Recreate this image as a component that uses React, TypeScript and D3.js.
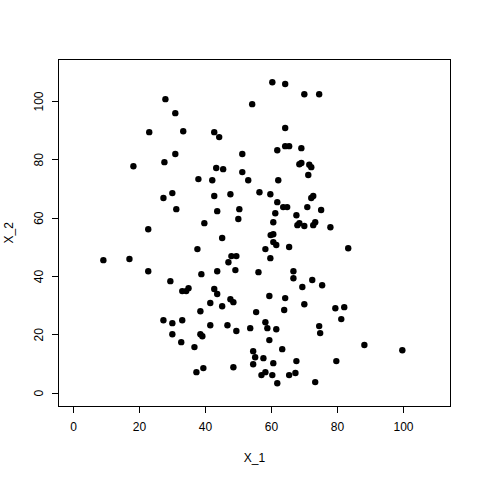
import React, { useEffect, useRef } from 'react';
import * as d3 from 'd3';

// values
const x1 = [
  28.0, 54.3, 31.0, 23.1, 33.4, 42.8, 44.3, 31.0, 51.3, 18.3, 27.7, 43.4, 45.5, 51.3, 38.0,
  42.2, 53.1, 30.1, 27.4, 42.8, 47.7, 31.3, 43.7, 50.4, 50.1, 39.8, 22.8,
  60.4, 64.3, 70.1, 74.6, 64.3, 64.3, 65.5, 61.9, 69.2, 68.6, 69.2, 71.6, 72.2, 71.3, 62.2,
  56.5, 59.8, 72.2, 72.8, 61.9, 63.7, 64.9, 71.0, 75.2, 61.3, 67.7, 60.7, 68.0, 68.6, 70.1,
  72.8, 73.4, 78.0, 59.9, 60.7,
  45.2, 37.7, 48.0, 49.5, 9.2, 17.1, 47.1, 22.8, 38.9, 43.7, 49.2, 29.5, 33.1, 34.3, 35.0,
  42.8, 43.7, 41.6, 47.7, 48.6, 45.2, 38.6, 27.4, 30.1, 33.1, 41.6, 46.8, 49.5, 53.7, 30.1,
  38.6, 39.2, 32.8, 36.8, 39.5, 37.4, 48.6,
  60.7, 61.6, 58.3, 65.5, 83.4, 59.8, 56.2, 66.8, 66.8, 72.5, 75.5, 69.5, 59.5, 64.3, 70.1,
  79.5, 82.2, 64.0, 55.5, 81.3, 58.3, 58.9, 61.6, 74.6, 74.9, 59.5, 88.3, 99.8, 54.6, 63.4,
  55.2, 57.7, 54.6, 60.7, 67.7, 79.8, 58.3, 57.1, 60.4, 65.5, 67.4, 61.9, 73.4,
];
const x2 = [
  100.8, 99.1, 96.0, 89.5, 89.8, 89.5, 87.8, 82.0, 82.0, 77.8, 79.2, 77.2, 76.8, 75.8, 73.4,
  73.0, 73.0, 68.6, 66.9, 67.6, 68.2, 63.1, 62.4, 63.1, 59.7, 58.3, 56.2,
  106.6, 106.0, 102.5, 102.5, 90.9, 84.7, 84.7, 83.3, 84.0, 78.5, 78.9, 78.3, 77.5, 74.8, 73.0,
  68.9, 68.2, 66.9, 67.6, 65.5, 63.8, 63.8, 63.8, 62.8, 61.7, 61.0, 58.6, 57.6, 58.3, 57.3,
  57.6, 58.6, 56.9, 54.2, 54.5,
  53.2, 49.4, 47.0, 47.0, 45.6, 46.0, 44.9, 41.8, 40.8, 41.8, 42.2, 38.4, 35.0, 35.0, 36.0,
  35.7, 34.0, 30.9, 32.2, 31.2, 29.8, 28.1, 25.0, 24.0, 25.0, 23.3, 23.3, 21.3, 22.3, 20.2,
  20.2, 19.5, 17.5, 15.8, 8.6, 7.2, 8.9,
  51.8, 50.8, 49.4, 50.1, 49.7, 46.3, 41.5, 41.8, 39.4, 38.8, 37.0, 36.4, 33.3, 32.6, 30.5,
  29.1, 29.5, 28.5, 27.8, 25.4, 24.3, 22.3, 21.9, 23.0, 20.6, 18.2, 16.5, 14.7, 14.4, 15.1,
  12.3, 12.0, 9.9, 10.3, 11.0, 11.0, 7.2, 6.2, 6.2, 6.2, 6.9, 3.4, 3.8,
];
const ticks = [0, 20, 40, 60, 80, 100];

const App = () => {
  const chartRef = useRef<SVGSVGElement>(null);

  useEffect(() => {
    const svg = d3.select(chartRef.current);
    svg.selectAll('*').remove();

    const left = 58.5, right = 450.5, top = 59.5, bottom = 406;
    const font = 'Liberation Sans, Arial, sans-serif';

    const x = d3.scaleLinear().domain([-4.4, 114.4]).range([left, right]);
    const y = d3.scaleLinear().domain([-4.4, 114.4]).range([bottom, top]);

    svg.append('rect')
      .attr('x', left).attr('y', top)
      .attr('width', right - left).attr('height', bottom - top)
      .attr('fill', 'none').attr('stroke', '#000').attr('stroke-width', 1)
      .attr('shape-rendering', 'crispEdges');

    const xAxis = svg.append('g')
      .attr('transform', `translate(0,${bottom})`)
      .call(d3.axisBottom(x).tickValues(ticks).tickSize(7).tickPadding(9).tickSizeOuter(0));
    xAxis.select('.domain').attr('d', `M${x(0)},0H${x(100)}`);
    xAxis.selectAll('path, line').attr('shape-rendering', 'crispEdges');
    xAxis.selectAll('text').attr('font-size', 12).attr('font-family', font).attr('fill', '#000');

    const yAxis = svg.append('g')
      .attr('transform', `translate(${left},0)`)
      .call(d3.axisLeft(y).tickValues(ticks).tickSize(7).tickSizeOuter(0));
    yAxis.select('.domain').attr('d', `M0,${y(0)}V${y(100)}`);
    yAxis.selectAll('text')
      .attr('x', null).attr('dy', null)
      .attr('text-anchor', 'middle')
      .attr('transform', d => `translate(-20,${y(d as number)}) rotate(-90)`)
      .attr('y', 0)
      .attr('dominant-baseline', 'central')
      .attr('font-size', 12).attr('font-family', font).attr('fill', '#000');
    yAxis.selectAll('.tick').attr('transform', null);
    yAxis.selectAll('.tick line').attr('y1', d => y(d as number)).attr('y2', d => y(d as number));
    yAxis.selectAll('path, line').attr('shape-rendering', 'crispEdges');

    svg.append('text')
      .attr('x', (left + right) / 2).attr('y', 462)
      .attr('text-anchor', 'middle')
      .attr('font-size', 12).attr('font-family', font)
      .text('X_1');

    svg.append('text')
      .attr('transform', `translate(13,${(top + bottom) / 2}) rotate(-90)`)
      .attr('text-anchor', 'middle')
      .attr('font-size', 12).attr('font-family', font)
      .text('X_2');

    svg.selectAll('.dot')
      .data(d3.range(x1.length))
      .enter().append('circle')
      .attr('class', 'dot')
      .attr('cx', i => x(x1[i]))
      .attr('cy', i => y(x2[i]))
      .attr('r', 3.2)
      .style('fill', '#000');
  }, []);

  return (
    <svg ref={chartRef} width={480} height={480}
      style={{ position: 'absolute', left: 0, top: 0, background: '#fff' }} />
  );
};

export default App;
